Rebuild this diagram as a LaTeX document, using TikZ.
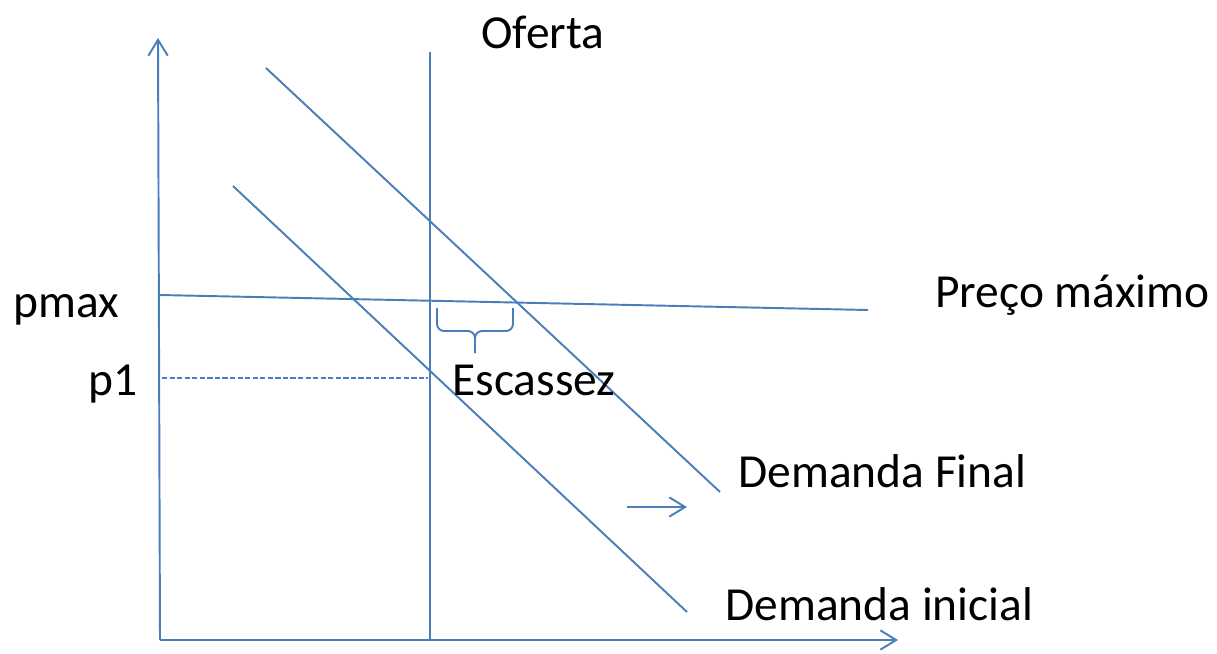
\documentclass[tikz,border=0pt]{standalone}
\usepackage{fontspec}
\setmainfont{Carlito}
\usepackage{xcolor}
\usetikzlibrary{arrows.meta}
\definecolor{azul}{HTML}{4A7EBB}

\begin{document}
\begin{tikzpicture}[x=0.02cm,y=-0.02cm,
  every node/.style={font=\fontsize{27}{32}\selectfont, inner sep=0pt, anchor=base west},
  linha/.style={azul, line width=1.1pt},
  seta/.style={linha, -{Straight Barb[length=9pt,width=11pt]}}]
\useasboundingbox (0,0) rectangle (1217,653);
%\draw[step=50,gray,very thin] (0,0) grid (1217,653);
\coordinate (origem) at (160,640);
\coordinate (topoy) at (158,38);
\coordinate (fimx) at (898,640);
\coordinate (oftopo) at (430,52);
\coordinate (ofbase) at (430,640);
\coordinate (pmaxini) at (160,295);
\coordinate (pmaxfim) at (868,310);
\coordinate (p1ini) at (162,378);
\coordinate (p1fim) at (428,378);
\coordinate (dfini) at (266,68);
\coordinate (dffim) at (720,492);
\coordinate (diini) at (233,186);
\coordinate (difim) at (687,612);
\coordinate (setaini) at (627,507);
\coordinate (setafim) at (687,507);
% eixos
\draw[seta] (origem) -- (topoy);
\draw[seta] (origem) -- (fimx);
% curvas
\draw[linha] (ofbase) -- (oftopo);
\draw[linha] (pmaxini) -- (pmaxfim);
\draw[azul, line width=0.8pt, dash pattern=on 3pt off 1.3pt] (p1ini) -- (p1fim);
\draw[linha] (dfini) -- (dffim);
\draw[linha] (diini) -- (difim);
\draw[seta] (setaini) -- (setafim);
% chave
\draw[linha, rounded corners=4pt] (437,308) -- (437,331) -- (475,331) -- (475,353);
\draw[linha, rounded corners=4pt] (513,308) -- (513,331) -- (475,331) -- (475,353);
% textos
\node (oferta) at (481,48) {Oferta};
\node (pmax) at (13,317) {pmax};
\node (p1) at (88,395) {p1};
\node (preco) at (935,307) {Preço máximo};
\node (escassez) at (452,395) {Escassez};
\node (dfinal) at (738,487) {Demanda Final};
\node (dinicial) at (725,620) {Demanda inicial};
\end{tikzpicture}
\end{document}
